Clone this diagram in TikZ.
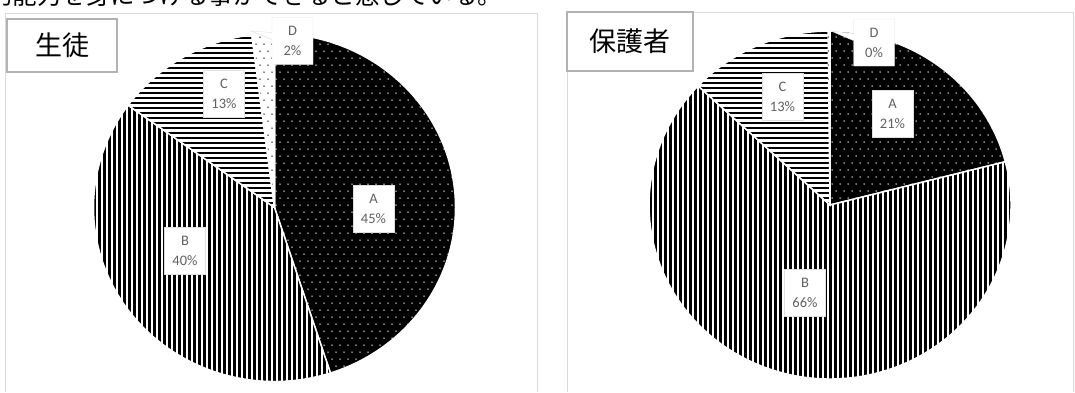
\documentclass[tikz,border=0pt]{standalone}
\usepackage{fontspec}
\setmainfont{Carlito}
\newfontfamily\cjk{Noto Sans CJK JP}
\usetikzlibrary{shapes.callouts}

\newcommand\slicepath[4]{(#1,#2) -- +(#3:181 and 174) arc[start angle=#3, end angle=#4, x radius=181, y radius=174] -- cycle}
% vertical stripes: first stripe centre x0, top y0
\newcommand\vstripes[2]{\foreach \i in {0,...,74}{\draw[line width=3pt] ({#1+\i*5},{#2}) -- ++(0,370);}}
% horizontal stripes: left x0, first stripe centre y0
\newcommand\hstripes[2]{\foreach \i in {0,...,74}{\draw[line width=2pt] ({#1},{#2+\i*5}) -- ++(370,0);}}
\newcommand\dotfield[5]{\foreach \j in {0,...,#4}{\foreach \i in {0,...,#3}{\fill[#5] ({#1+\i*8+4*mod(\j,2)},{#2+\j*7}) circle (0.75);}}}

\tikzset{
  panel/.style={draw=black!15, line width=1pt},
  titlebox/.style={draw=black!30, line width=1.2pt, fill=white, font=\cjk\fontsize{27}{27}\selectfont, inner sep=0pt},
  lbl/.style={draw=black!12, fill=white, text=black!62, font=\fontsize{14.5}{20}\selectfont, align=center, minimum width=41pt, minimum height=47pt, inner sep=0pt},
  sliceedge/.style={draw=white, line width=1.5pt},
}

\begin{document}
\begin{tikzpicture}[x=1pt,y=-1pt]
\useasboundingbox (0,0) rectangle (1075,392);
\fill[white] (0,0) rectangle (1075,392);

% cropped line of text at the very top
\begin{scope}
\clip (0,0) rectangle (1075,9.5);
\node[anchor=base west, inner sep=0pt, font=\cjk\fontsize{24.5}{24.5}\selectfont] (toptext) at (-12,4) {的能力を身につける事ができると感じている。};
\end{scope}

% panels
\draw[panel] (5,392) -- (5,13) -- (537,13) -- (537,392);
\draw[panel] (567,392) -- (567,12) -- (1073,12) -- (1073,392);

% ---------- left pie (center 274.5,207.5) ----------
% A 45%
\begin{scope}
\clip \slicepath{274.5}{207.5}{-90}{72};
\fill[black] (90,20) rectangle (460,390);
\dotfield{272}{30}{24}{51}{white}
\end{scope}
\draw[sliceedge] \slicepath{274.5}{207.5}{-90}{72};
% B 40%
\begin{scope}
\clip \slicepath{274.5}{207.5}{72}{216};
\vstripes{89.5}{20}
\end{scope}
\draw[sliceedge] \slicepath{274.5}{207.5}{72}{216};
% C 13%
\begin{scope}
\clip \slicepath{274.5}{207.5}{216}{262.8};
\hstripes{85}{23}
\end{scope}
\draw[sliceedge] \slicepath{274.5}{207.5}{216}{262.8};
% D 2%
\begin{scope}
\clip \slicepath{274.5}{207.5}{262.8}{270};
\dotfield{240}{30}{5}{26}{black}
\end{scope}
\draw[sliceedge] \slicepath{274.5}{207.5}{262.8}{270};

% ---------- right pie (center 830,205) ----------
% A 21%
\begin{scope}
\clip \slicepath{830}{205}{-90}{-14.4};
\fill[black] (820,20) rectangle (1020,215);
\dotfield{824}{30}{24}{26}{white}
\end{scope}
\draw[sliceedge] \slicepath{830}{205}{-90}{-14.4};
% B 66%
\begin{scope}
\clip \slicepath{830}{205}{-14.4}{223.2};
\vstripes{645.5}{20}
\end{scope}
\draw[sliceedge] \slicepath{830}{205}{-14.4}{223.2};
% C 13%
\begin{scope}
\clip \slicepath{830}{205}{223.2}{269.4};
\hstripes{640}{23}
\end{scope}
\draw[sliceedge] \slicepath{830}{205}{223.2}{269.4};
% D 0%
\begin{scope}
\clip \slicepath{830}{205}{269.2}{270};
\dotfield{824}{30}{1}{26}{black}
\end{scope}

% ---------- titles ----------
\node[titlebox, minimum width=110pt, minimum height=53pt] (t1) at (62,45.5) {生徒};
\node[titlebox, minimum width=126pt, minimum height=59pt] (t2) at (630,41.5) {保護者};

% ---------- data labels ----------
\node[lbl] (lA) at (373.5,209) {A\\45\%};
\node[lbl] (lB) at (185,250.5) {B\\40\%};
\node[lbl] (lC) at (224,93.5) {C\\13\%};
\node[lbl, rectangle callout, callout absolute pointer={(251,31)}] (lD) at (292.5,41) {D\\2\%};

\node[lbl] (rA) at (892.5,113.5) {A\\21\%};
\node[lbl] (rB) at (805,293) {B\\66\%};
\node[lbl] (rC) at (782.5,96.5) {C\\13\%};
\node[lbl, rectangle callout, callout absolute pointer={(831,31)}] (rD) at (874,42.5) {D\\0\%};
\end{tikzpicture}
\end{document}
